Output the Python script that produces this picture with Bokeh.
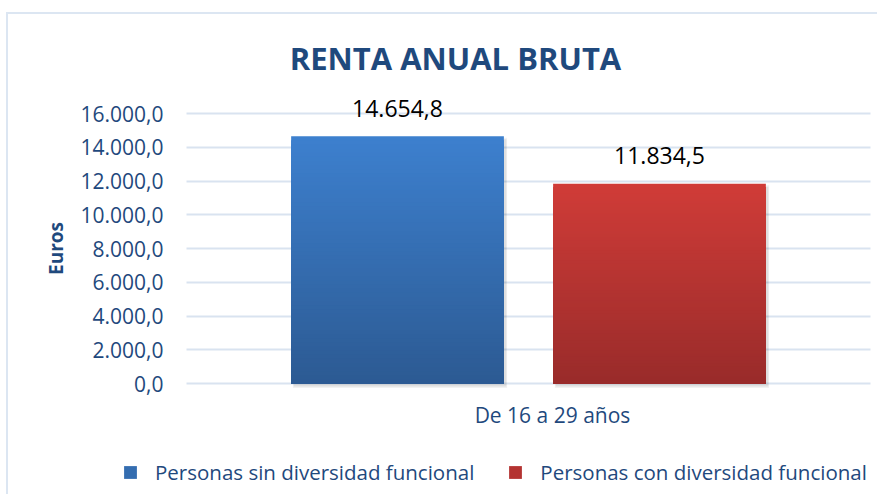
from bokeh.plotting import figure
from bokeh.models import (ColumnDataSource, Legend, LegendItem, Label,
                          FixedTicker, Range1d, LinearAxis, Grid)
from bokeh.core.properties import value
from bokeh.embed import file_html
from bokeh.resources import INLINE

# ---- data ----
categories = ["De 16 a 29 años"]
series_names = ["Personas sin diversidad funcional", "Personas con diversidad funcional"]
sin_values = [14654.8]
con_values = [11834.5]
data_labels_sin = ["14.654,8"]
data_labels_con = ["11.834,5"]
y_ticks = [0, 2000, 4000, 6000, 8000, 10000, 12000, 14000, 16000]
y_tick_labels = ["0,0", "2.000,0", "4.000,0", "6.000,0", "8.000,0",
                 "10.000,0", "12.000,0", "14.000,0", "16.000,0"]
title_text = "RENTA ANUAL BRUTA"
y_label = "Euros"

# ---- styling / layout ----
FONT = "Open Sans"
DARK = "#1f497d"
blue_top, blue_bottom = (0x3d, 0x80, 0xce), (0x2c, 0x5a, 0x93)
red_top, red_bottom = (0xd0, 0x3c, 0x38), (0x99, 0x2b, 0x2a)
N = 60
W, H = 871, 482
PLOT_L, PLOT_R = 178, 862      # plot area (pixels inside canvas)
ZERO_Y, AXIS_PX = 369, 270     # zero line y and pixels used by 0..16000
cat_x = list(range(len(categories)))
unit = (PLOT_R - PLOT_L) / len(categories)
x_start = -0.5 - PLOT_L / unit
x_end = len(categories) - 0.5 + (W - PLOT_R) / unit
ppu = AXIS_PX / y_ticks[-1]
y_start = -(H - ZERO_Y) / ppu
y_end = ZERO_Y / ppu
OFF, BW = 0.1915, 0.311
LABEL_SHIFT = 24 / unit        # category label sits a little right of centre
SH_DX, SH_DY = 2.5 / unit, 3 / ppu   # drop shadow offset

def hexc(c):
    return "#%02x%02x%02x" % tuple(int(round(v)) for v in c)

def gradient_source(vals, top, bottom, off):
    xs, tops, cols = [], [], []
    for k in range(N - 1, -1, -1):
        t = (k + 0.5) / N
        col = tuple(bottom[i] + (top[i] - bottom[i]) * t for i in range(3))
        for c, v in zip(cat_x, vals):
            xs.append(c + off)
            tops.append(v * (k + 1) / N)
            cols.append(hexc(col))
    return ColumnDataSource(dict(x=xs, top=tops, color=cols))

p = figure(x_range=Range1d(x_start, x_end), y_range=Range1d(y_start, y_end),
           width=W, height=H, output_backend="svg", toolbar_location=None,
           min_border=0, x_axis_location=None, y_axis_location=None)
p.styles = {"border-left": "2px solid #dce6f2", "border-top": "2px solid #dce6f2",
            "margin-top": "12px", "margin-left": "6px"}
p.outline_line_color = None
p.background_fill_color = "white"
p.border_fill_color = "white"
for g in list(p.center):
    if isinstance(g, Grid):
        g.visible = False

label_ticks = [c + LABEL_SHIFT for c in cat_x]
xaxis = LinearAxis(fixed_location=0, ticker=FixedTicker(ticks=label_ticks),
                   major_label_overrides=dict(zip(label_ticks, categories)))
yaxis = LinearAxis(fixed_location=-0.5, ticker=FixedTicker(ticks=y_ticks),
                   major_label_overrides=dict(zip(y_ticks, y_tick_labels)),
                   bounds=(y_ticks[0], y_ticks[-1]), axis_label=y_label)
p.add_layout(xaxis, "below")
p.add_layout(yaxis, "left")
grid = Grid(dimension=1, ticker=yaxis.ticker, grid_line_color="#d9e3f0",
            grid_line_width=2, cross_bounds=(-0.5, len(categories) - 0.5))
p.add_layout(grid)

# soft drop shadows
sh_x = [c - OFF + SH_DX for c in cat_x] + [c + OFF + SH_DX for c in cat_x]
sh_top = [v - SH_DY for v in sin_values] + [v - SH_DY for v in con_values]
for a, grow in ((0.05, 1.5), (0.08, 0.0)):
    p.vbar(x=sh_x, top=[t + grow / ppu for t in sh_top], bottom=-SH_DY - grow / ppu,
           width=BW + grow / unit, fill_color="#000000", fill_alpha=a, line_color=None)

src_sin = gradient_source(sin_values, blue_top, blue_bottom, -OFF)
src_con = gradient_source(con_values, red_top, red_bottom, OFF)
r_sin = p.vbar(x="x", top="top", bottom=0, width=BW, source=src_sin,
               fill_color="color", line_color=None)
r_con = p.vbar(x="x", top="top", bottom=0, width=BW, source=src_con,
               fill_color="color", line_color=None)

lab_sin = ColumnDataSource(dict(x=[c - OFF for c in cat_x], y=sin_values, t=data_labels_sin))
lab_con = ColumnDataSource(dict(x=[c + OFF for c in cat_x], y=con_values, t=data_labels_con))
for s in (lab_sin, lab_con):
    p.text(x="x", y="y", text="t", source=s,
           text_font=value(FONT), text_font_size="23px", text_color="black",
           text_align="center", text_baseline="alphabetic", y_offset=-28)

for ax in (xaxis, yaxis):
    ax.axis_line_color = None
    ax.major_tick_line_color = None
    ax.minor_tick_line_color = None
    ax.major_tick_out = 0
    ax.major_tick_in = 0
    ax.major_label_text_font = FONT
    ax.major_label_text_color = DARK
    ax.major_label_text_font_size = "21px"
yaxis.major_label_standoff = 23
xaxis.major_label_standoff = 17
yaxis.axis_label_text_font = FONT
yaxis.axis_label_text_font_style = "bold"
yaxis.axis_label_text_font_size = "19px"
yaxis.axis_label_text_color = DARK
yaxis.axis_label_standoff = 9

# title
title_x = -0.5 + (447 - PLOT_L) / unit
title_y = (ZERO_Y - 43) / ppu
p.add_layout(Label(x=title_x, y=title_y, text=title_text, text_font=FONT,
                   text_font_style="bold", text_font_size="31px", text_color=DARK,
                   text_align="center", text_baseline="alphabetic"))

# legend
k_mid = N // 2
legend = Legend(items=[
    LegendItem(label=series_names[0], renderers=[r_sin], index=len(categories) * (N - k_mid)),
    LegendItem(label=series_names[1], renderers=[r_con], index=len(categories) * (N - k_mid)),
], orientation="horizontal", location=(114, 10))
legend.label_text_font = FONT
legend.label_text_font_size = "20.5px"
legend.label_text_color = DARK
legend.glyph_width = 16
legend.glyph_height = 16
legend.label_standoff = 17
legend.spacing = 33
legend.padding = 0
legend.margin = 0
legend.border_line_color = None
legend.background_fill_alpha = 0
p.add_layout(legend, "center")

open("out.html", "w").write(file_html(p, INLINE))
